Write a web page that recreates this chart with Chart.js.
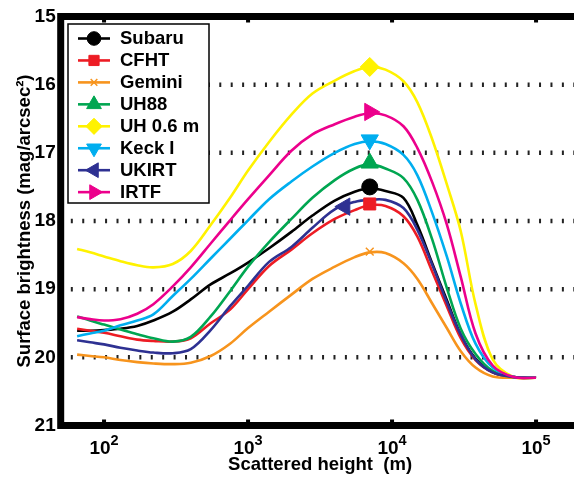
<!DOCTYPE html>
<html>
<head>
<meta charset="utf-8">
<script src="https://cdn.jsdelivr.net/npm/chart.js@4.4.1/dist/chart.umd.min.js"></script>
<style>
html,body{margin:0;padding:0;background:#fff;overflow:hidden;width:574px;height:477px}
canvas{display:block}
</style>
</head>
<body>
<canvas id="c" width="600" height="477" style="width:600px;height:477px"></canvas>
<script>
// ---------- data ----------
const heights = [65, 80, 100, 130, 170, 220, 300, 400, 550, 750, 1000, 1400, 2000, 2800, 4000, 5500, 7000, 9000, 12000, 15000, 19000, 24000, 30000, 38000, 50000, 70000, 100000];

const subaru = [19.61, 19.61, 19.60, 19.58, 19.54, 19.46, 19.33, 19.15, 18.93, 18.77, 18.61, 18.40, 18.16, 17.92, 17.70, 17.57, 17.52, 17.56, 17.66, 18.06, 18.62, 19.16, 19.67, 20.02, 20.22, 20.29, 20.30];
const cfht   = [19.58, 19.61, 19.64, 19.69, 19.74, 19.76, 19.77, 19.72, 19.50, 19.30, 19.00, 18.66, 18.42, 18.18, 17.97, 17.84, 17.77, 17.78, 17.93, 18.23, 18.74, 19.25, 19.72, 20.04, 20.22, 20.29, 20.30];
const gemini = [19.96, 19.98, 20.00, 20.04, 20.07, 20.09, 20.10, 20.08, 19.98, 19.80, 19.57, 19.33, 19.08, 18.85, 18.67, 18.53, 18.46, 18.47, 18.62, 18.85, 19.21, 19.57, 19.91, 20.15, 20.28, 20.30, 20.30];
const uh88   = [19.40, 19.46, 19.52, 19.59, 19.66, 19.72, 19.77, 19.70, 19.40, 19.03, 18.67, 18.31, 17.97, 17.66, 17.40, 17.23, 17.17, 17.23, 17.37, 17.69, 18.27, 18.98, 19.58, 19.95, 20.20, 20.29, 20.30];
const uh06   = [18.41, 18.46, 18.52, 18.59, 18.65, 18.68, 18.63, 18.44, 18.06, 17.66, 17.26, 16.84, 16.44, 16.13, 15.94, 15.80, 15.74, 15.78, 15.95, 16.26, 16.80, 17.46, 18.15, 19.22, 20.03, 20.29, 20.30];
const keck   = [19.69, 19.65, 19.61, 19.53, 19.46, 19.37, 19.10, 18.85, 18.55, 18.26, 17.99, 17.68, 17.42, 17.20, 17.00, 16.87, 16.83, 16.87, 17.03, 17.33, 17.88, 18.52, 19.21, 19.80, 20.15, 20.29, 20.30];
const ukirt  = [19.75, 19.78, 19.81, 19.86, 19.90, 19.93, 19.94, 19.88, 19.60, 19.25, 18.95, 18.60, 18.38, 18.10, 17.83, 17.72, 17.69, 17.69, 17.81, 18.13, 18.64, 19.19, 19.67, 20.03, 20.22, 20.29, 20.30];
const irtf   = [19.41, 19.44, 19.46, 19.44, 19.36, 19.22, 18.96, 18.68, 18.33, 17.99, 17.68, 17.33, 16.97, 16.73, 16.58, 16.47, 16.42, 16.45, 16.61, 16.93, 17.43, 18.05, 18.82, 19.65, 20.12, 20.29, 20.30];

const seriesNames = ['Subaru', 'CFHT', 'Gemini', 'UH88', 'UH 0.6 m', 'Keck I', 'UKIRT', 'IRTF'];
const markerHeights = [7000, 7000, 7000, 7000, 7000, 7000, 4700, 7000];
const markerValues  = [17.50, 17.75, 18.45, 17.15, 15.74, 16.81, 17.79, 16.40];

const xTickValues = [100, 1000, 10000, 100000];
const xTickBase = '10';
const xTickExponents = ['2', '3', '4', '5'];
const yTickValues = [15, 16, 17, 18, 19, 20, 21];
const gridValues = [16, 17, 18, 19, 20];

// ---------- styles ----------
const seriesValues = [subaru, cfht, gemini, uh88, uh06, keck, ukirt, irtf];
const colors = ['#000000', '#ed1c24', '#f7941d', '#00a651', '#fff200', '#00aeef', '#2e3192', '#ec008c'];
const marks = [
  {style: 'circle',   rot: 0,   r: 8,   bw: 1},
  {style: 'rect',     rot: 0,   r: 8.5, bw: 1},
  {style: 'crossRot', rot: 0,   r: 5.5, bw: 1.5},
  {style: 'triangle', rot: 0,   r: 10,  bw: 1},
  {style: 'rectRot',  rot: 0,   r: 9.5, bw: 1},
  {style: 'triangle', rot: 180, r: 10,  bw: 1},
  {style: 'triangle', rot: 270, r: 10,  bw: 1},
  {style: 'triangle', rot: 90,  r: 10,  bw: 1}
];
const FONT = '"Liberation Sans", Arial, Helvetica, sans-serif';

const datasets = [];
seriesValues.forEach((vals, i) => {
  datasets.push({
    type: 'line',
    label: seriesNames[i],
    data: heights.map((h, k) => ({x: h, y: vals[k]})),
    borderColor: colors[i],
    backgroundColor: colors[i],
    borderWidth: 2.6,
    pointRadius: 0,
    fill: false,
    tension: 0.35,
    order: 20 - i
  });
});
seriesValues.forEach((_, i) => {
  datasets.push({
    type: 'scatter',
    label: seriesNames[i] + ' marker',
    data: [{x: markerHeights[i], y: markerValues[i]}],
    pointStyle: marks[i].style,
    rotation: marks[i].rot,
    pointRadius: marks[i].r,
    backgroundColor: colors[i],
    borderColor: colors[i],
    borderWidth: marks[i].bw,
    showLine: false,
    order: 10 - i
  });
});

function drawMarker(ctx, i, x, y, scale) {
  ctx.save();
  ctx.setLineDash([]);
  ctx.fillStyle = colors[i];
  ctx.strokeStyle = colors[i];
  ctx.lineWidth = marks[i].bw;
  const opts = {pointStyle: marks[i].style, rotation: marks[i].rot, radius: marks[i].r * scale, borderWidth: marks[i].bw};
  if (Chart.helpers && Chart.helpers.drawPoint) {
    Chart.helpers.drawPoint(ctx, opts, x, y);
  } else {
    ctx.beginPath(); ctx.arc(x, y, opts.radius, 0, Math.PI * 2); ctx.fill();
  }
  ctx.restore();
}

const decor = {
  id: 'decor',
  beforeDatasetsDraw(chart) {
    const {ctx, chartArea: a, scales: {y}} = chart;
    ctx.save();
    ctx.strokeStyle = '#222';
    ctx.lineWidth = 4.5;
    ctx.setLineDash([2, 9.42]);
    ctx.lineDashOffset = 1.3;
    gridValues.forEach(v => {
      const py = y.getPixelForValue(v);
      ctx.beginPath();
      ctx.moveTo(a.left, py);
      ctx.lineTo(a.right, py);
      ctx.stroke();
    });
    ctx.restore();
  },
  afterDatasetsDraw(chart) {
    const {ctx, chartArea: a} = chart;
    const L = a.left + 7.3, T = a.top + 7.5, W = 141, H = 179;
    ctx.save();
    ctx.fillStyle = '#fff';
    ctx.fillRect(L, T, W, H);
    ctx.strokeStyle = '#000';
    ctx.lineWidth = 1.5;
    ctx.strokeRect(L, T, W, H);
    seriesNames.forEach((name, i) => {
      const cy = T + 14.5 + i * 21.95;
      ctx.strokeStyle = colors[i];
      ctx.lineWidth = 2.6;
      ctx.beginPath();
      ctx.moveTo(L + 10, cy);
      ctx.lineTo(L + 42, cy);
      ctx.stroke();
      drawMarker(ctx, i, L + 26, cy, 0.85);
      ctx.fillStyle = '#000';
      ctx.font = 'bold 18.5px ' + FONT;
      ctx.textAlign = 'left';
      ctx.textBaseline = 'middle';
      ctx.fillText(name, L + 52, cy + 0.5);
    });
    ctx.restore();
  },
  afterDraw(chart) {
    const {ctx, chartArea: a, scales: {x}} = chart;
    ctx.save();
    ctx.strokeStyle = '#000';
    ctx.lineWidth = 7;
    ctx.lineJoin = 'miter';
    ctx.strokeRect(a.left, a.top, a.right - a.left, a.bottom - a.top);
    ctx.fillStyle = '#000';
    xTickValues.forEach((v, k) => {
      const px = x.getPixelForValue(v);
      ctx.fillRect(px - 2, a.top + 3.5, 4, 2.5);
      ctx.fillRect(px - 2, a.bottom - 6, 4, 2.5);
      ctx.font = 'bold 19px ' + FONT;
      const wb = ctx.measureText(xTickBase).width;
      ctx.font = 'bold 14.5px ' + FONT;
      const we = ctx.measureText(xTickExponents[k]).width;
      const start = px - (wb + we) / 2;
      ctx.textAlign = 'left';
      ctx.textBaseline = 'alphabetic';
      ctx.font = 'bold 19px ' + FONT;
      ctx.fillText(xTickBase, start, a.bottom + 28.5);
      ctx.font = 'bold 14.5px ' + FONT;
      ctx.fillText(xTickExponents[k], start + wb, a.bottom + 19.5);
    });
    ctx.restore();
  }
};

new Chart(document.getElementById('c'), {
  type: 'line',
  data: {datasets},
  plugins: [decor],
  options: {
    responsive: false,
    animation: false,
    devicePixelRatio: 1,
    layout: {padding: {top: 16.5, right: 20.6, left: 0, bottom: 0}},
    plugins: {legend: {display: false}, tooltip: {enabled: false}},
    scales: {
      x: {
        type: 'logarithmic',
        position: 'bottom',
        min: 50,
        max: 200000,
        grid: {display: false, drawTicks: false, tickLength: 0},
        border: {display: false},
        ticks: {display: false},
        afterBuildTicks: s => { s.ticks = xTickValues.map(v => ({value: v})); },
        afterFit: s => { s.height = 51.5; },
        title: {display: true, text: 'Scattered height  (m)', color: '#000',
                font: {family: FONT, size: 18.5, weight: 'bold'}, padding: {top: 0, bottom: 1}}
      },
      y: {
        type: 'linear',
        min: 15,
        max: 21,
        reverse: true,
        grid: {display: false, drawTicks: false, tickLength: 0},
        border: {display: false},
        afterBuildTicks: s => { s.ticks = yTickValues.map(v => ({value: v})); },
        ticks: {color: '#000', padding: 5, font: {family: FONT, size: 19, weight: 'bold'},
                callback: v => String(v)},
        afterFit: s => { s.width = 60.7; },
        title: {display: true, text: 'Surface brightness (mag/arcsec²)', color: '#000',
                font: {family: FONT, size: 18.5, weight: 'bold'}, padding: {top: 14, bottom: 0}}
      }
    }
  }
});
</script>
</body>
</html>
